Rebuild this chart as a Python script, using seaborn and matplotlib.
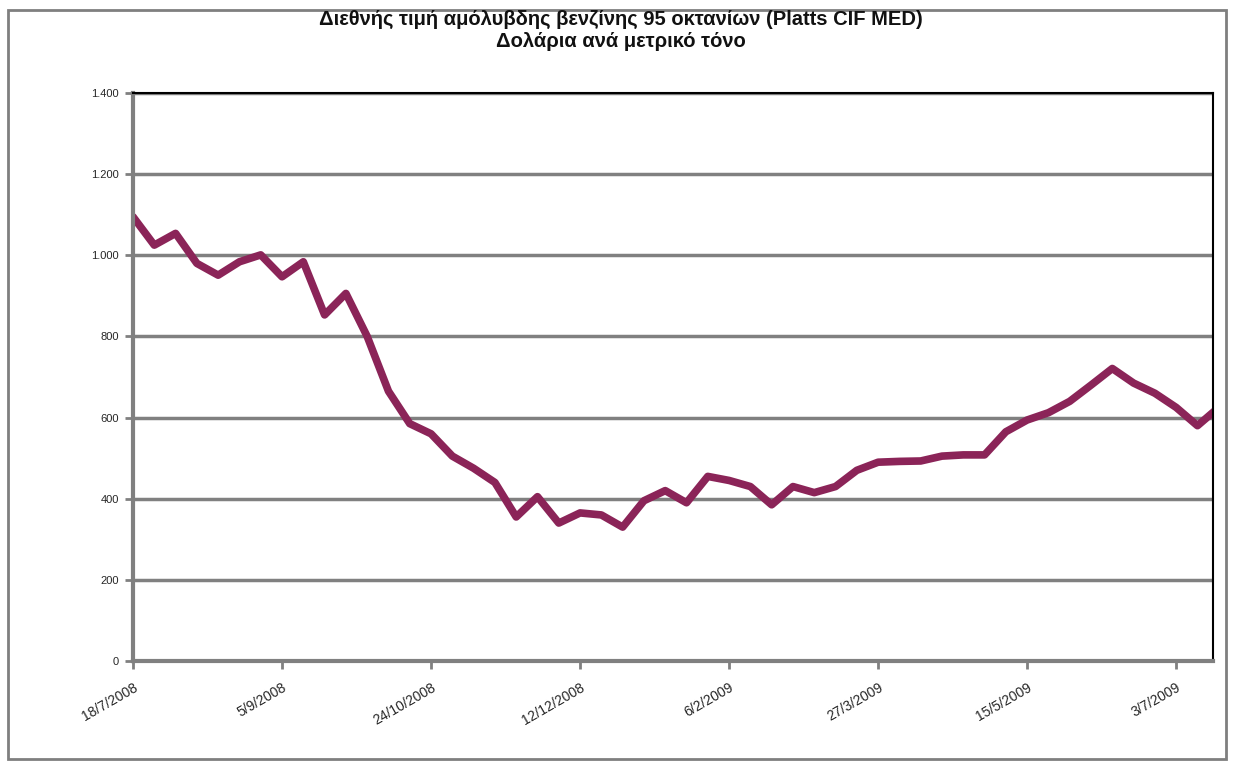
import matplotlib
matplotlib.use("Agg")
import matplotlib.pyplot as plt
import matplotlib.ticker as mticker
from matplotlib.patches import Rectangle
import seaborn as sns
import pandas as pd
import numpy as np

# Weekly price, USD per metric tonne
prices = [1095, 1025, 1054, 980, 951, 984, 1001, 947, 984, 853,
          906, 800, 665, 585, 560, 505, 475, 440, 355, 405,
          340, 365, 360, 330, 395, 420, 390, 455, 445, 430,
          385, 430, 415, 430, 470, 490, 492, 493, 505, 508,
          508, 565, 594, 612, 640, 680, 721, 685, 660, 625,
          580, 625]
tick_positions = [0, 7, 14, 21, 28, 35, 42, 49]
tick_labels = ["18/7/2008", "5/9/2008", "24/10/2008", "12/12/2008",
               "6/2/2009", "27/3/2009", "15/5/2009", "3/7/2009"]
y_ticks = [0, 200, 400, 600, 800, 1000, 1200, 1400]
title = "Διεθνής τιμή αμόλυβδης βενζίνης 95 οκτανίων (Platts CIF MED)\nΔολάρια ανά μετρικό τόνο"

sns.set_theme(style="white")
plt.rcParams['font.family'] = ['Liberation Sans Narrow', 'Liberation Sans', 'DejaVu Sans']

fig = plt.figure(figsize=(12.34, 7.67), dpi=100)
ax = fig.add_axes([133/1234, 1-661/767, (1213-133)/1234, (661-93)/767])

df = pd.DataFrame({"idx": np.arange(len(prices)), "price": prices})
sns.lineplot(data=df, x="idx", y="price", ax=ax, color="#8B2458",
             linewidth=5.5)

ax.set_xlim(0, 50.73)
ax.set_ylim(0, 1400)
ax.set_yticks(y_ticks)
ax.yaxis.set_major_formatter(mticker.FuncFormatter(
    lambda v, p: f"{int(v):,}".replace(",", ".")))
ax.set_xticks(tick_positions)
ax.set_xticklabels(tick_labels, rotation=30, ha="right", rotation_mode="anchor",
                   fontsize=10)
ax.tick_params(axis="y", labelsize=8, length=6, width=2, color="#808080",
               left=True, pad=4)
ax.tick_params(axis="x", length=6, width=2, color="#808080", bottom=True, pad=8)
ax.set_xlabel("")
ax.set_ylabel("")
ax.grid(axis="y", color="#808080", linewidth=2.5)
ax.set_axisbelow(True)

for side in ["top", "right"]:
    ax.spines[side].set_color("black")
    ax.spines[side].set_linewidth(1.5)
for side in ["left", "bottom"]:
    ax.spines[side].set_color("#808080")
    ax.spines[side].set_linewidth(3)

fig.text(0.503, 1-10/767, title, ha="center", va="top", fontsize=14.5,
         fontweight="bold", linespacing=1.2, color="#111111")

fig.patches.append(Rectangle((8/1234, 8/767), (1226-8)/1234, (757-8)/767,
                             transform=fig.transFigure, fill=False,
                             edgecolor="#7f7f7f", linewidth=2))

fig.savefig("out.png", dpi=100)
